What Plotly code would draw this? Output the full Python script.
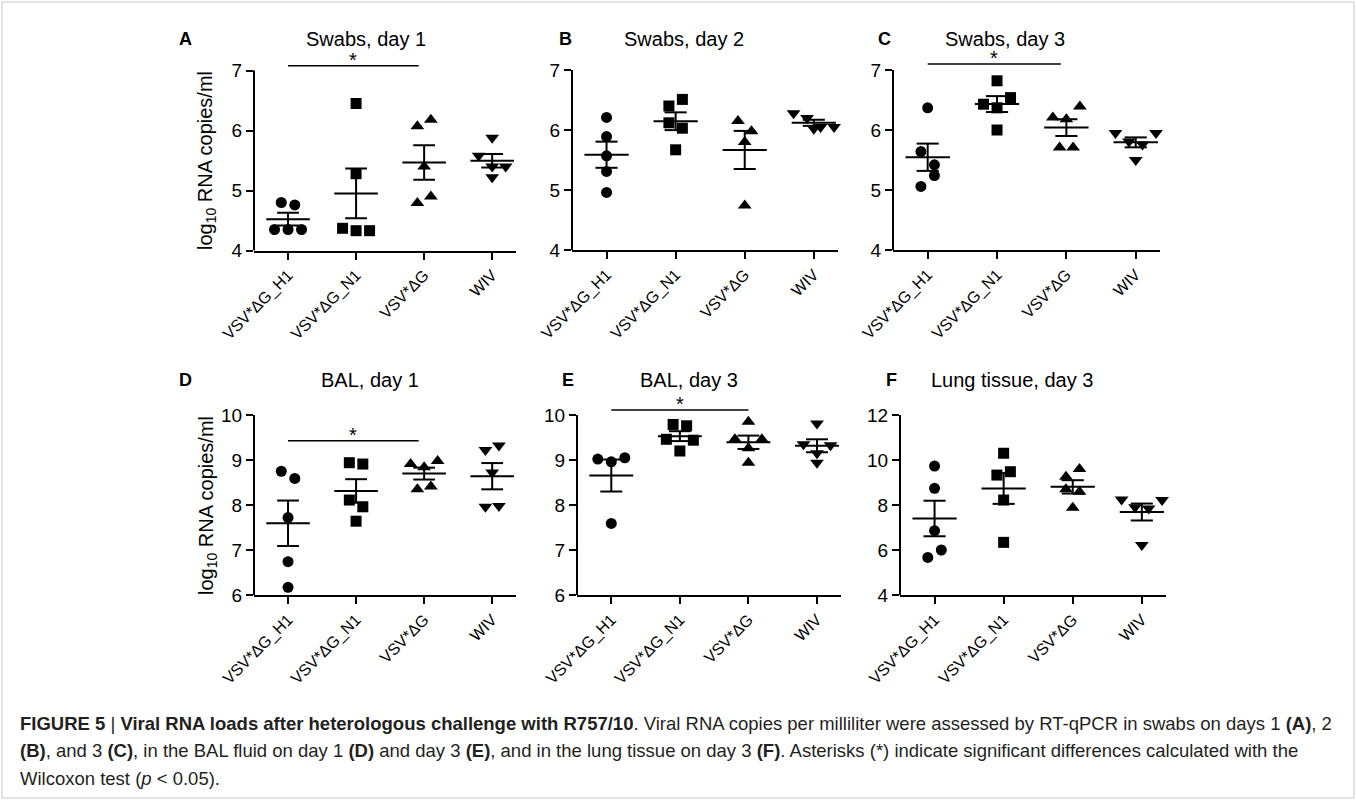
import numpy as np
import plotly.graph_objects as go

W, H = 1356, 800

groups = ["VSV*ΔG_H1", "VSV*ΔG_N1", "VSV*ΔG", "WIV"]
symbols = ["circle", "square", "triangle-up", "triangle-down"]

panel_titles = ["Swabs, day 1", "Swabs, day 2", "Swabs, day 3",
                "BAL, day 1", "BAL, day 3", "Lung tissue, day 3"]
panel_letters = ["A", "B", "C", "D", "E", "F"]

# log10 RNA copies/ml, one list per group (H1, N1, ΔG, WIV)
swabs_day1 = [[4.80, 4.76, 4.35, 4.35, 4.35],
              [6.45, 5.28, 4.37, 4.33, 4.33],
              [6.07, 6.18, 5.40, 4.79, 4.90],
              [5.88, 5.58, 5.40, 5.22, 5.40]]
swabs_day2 = [[6.21, 5.89, 5.57, 5.31, 4.96],
              [6.40, 6.51, 6.12, 6.03, 5.67],
              [6.15, 5.98, 5.80, 4.74],
              [6.28, 6.20, 6.05, 6.02, 6.05]]
swabs_day3 = [[6.37, 5.64, 5.42, 5.06, 5.24],
              [6.82, 6.43, 6.37, 6.54, 6.00],
              [6.21, 6.18, 6.39, 5.71, 5.71],
              [5.95, 5.81, 5.76, 5.95, 5.50]]
bal_day1 = [[8.75, 8.59, 7.72, 6.74, 6.17],
            [8.94, 8.91, 8.11, 7.96, 7.64],
            [8.91, 8.84, 8.98, 8.35, 8.41],
            [9.22, 9.32, 8.72, 7.96, 7.98]]
bal_day3 = [[9.02, 8.96, 9.05, 7.59],
            [9.79, 9.76, 9.46, 9.20, 9.44],
            [9.85, 9.46, 9.26, 9.46, 8.94],
            [9.81, 9.35, 9.15, 9.33, 8.94]]
lung_day3 = [[9.73, 8.74, 6.86, 5.67, 6.00],
             [10.30, 9.33, 9.48, 8.22, 6.34],
             [9.26, 9.60, 8.70, 8.59, 7.88],
             [8.25, 7.90, 7.85, 8.22, 6.22]]

panel_data = [swabs_day1, swabs_day2, swabs_day3, bal_day1, bal_day3, lung_day3]

y_ticks = [[4, 5, 6, 7], [4, 5, 6, 7], [4, 5, 6, 7],
           [6, 7, 8, 9, 10], [6, 7, 8, 9, 10], [4, 6, 8, 10, 12]]

# significance bars: (panel index, from group, to group, bar level)
sig_panels = [0, 2, 3, 4]
sig_from = [0, 0, 0, 0]
sig_to = [1.92, 1.92, 1.92, 2.0]
sig_level = [7.08, 7.10, 9.43, 10.11]

# ---------------- layout (pixels) ----------------
boxes = [(254, 516, 70.5, 250.5), (572, 838, 70, 250), (893, 1160, 70, 250),
         (254, 516, 415, 595), (577, 841, 415, 595), (900, 1166, 415, 595)]
EXT_PX = 20
XR = [-0.5, 3.35]
title_pos = [(366, 39), (684, 39), (1005, 39), (370, 380), (689, 380), (1012, 380)]
letter_pos = [(185, 39), (565, 39), (884, 39), (185, 380), (568, 380), (891, 380)]

FONT = "Arial, Liberation Sans, sans-serif"

fig = go.Figure()


def swarm_offsets(vals, ppu_y, ppx, row_px=14.0, step_px=13.5):
    vals = np.asarray(vals, float)
    order = sorted(range(len(vals)), key=lambda i: -vals[i])
    rows = []
    for i in order:
        if rows and (vals[rows[-1][0]] - vals[i]) * ppu_y < row_px:
            rows[-1].append(i)
        else:
            rows.append([i])
    off = np.zeros(len(vals))
    for r in rows:
        r = sorted(r)
        n = len(r)
        for k, i in enumerate(r):
            off[i] = (k - (n - 1) / 2) * step_px / ppx
    return off


def paper_text(text, px, py, size, angle=0, anchor="center"):
    fig.add_annotation(text=text, xref="paper", yref="paper",
                       x=px / W, y=1 - py / H, xanchor=anchor,
                       yanchor="middle", textangle=angle, showarrow=False,
                       font=dict(family=FONT, size=size, color="black"))


for p in range(6):
    x0, x1, ytop, ybot = boxes[p]
    ticks = y_ticks[p]
    ymin, ymax = ticks[0], ticks[-1]
    ppu = (ybot - ytop) / (ymax - ymin)
    ppx = (x1 - x0) / (XR[1] - XR[0])
    yext = ymax + EXT_PX / ppu
    ax_id = "" if p == 0 else str(p + 1)
    xa, ya = "x" + ax_id, "y" + ax_id

    fig.layout["xaxis" + ax_id] = dict(
        domain=[x0 / W, x1 / W], anchor=ya, range=XR, automargin=False,
        tickvals=list(range(4)), ticktext=groups, tickangle=-45,
        tickfont=dict(family=FONT, size=16, color="black"),
        showline=True, linecolor="black", linewidth=2,
        ticks="outside", ticklen=7, tickwidth=2, tickcolor="black",
        showgrid=False, zeroline=False, fixedrange=True)
    fig.layout["yaxis" + ax_id] = dict(
        domain=[1 - ybot / H, 1 - (ytop - EXT_PX) / H], anchor=xa,
        range=[ymin, yext], tickvals=ticks, automargin=False,
        tickfont=dict(family=FONT, size=19, color="black"),
        showline=False, ticks="outside", ticklen=7, tickwidth=2,
        tickcolor="black", showgrid=False, zeroline=False, fixedrange=True)

    # y axis line only up to the top tick
    fig.add_shape(type="line", xref=xa + " domain", yref=ya,
                  x0=0, x1=0, y0=ymin, y1=ymax,
                  line=dict(color="black", width=2))

    for g in range(4):
        vals = np.asarray(panel_data[p][g], float)
        off = swarm_offsets(vals, ppu, ppx)
        fig.add_trace(go.Scatter(
            x=g + off, y=vals, mode="markers", xaxis=xa, yaxis=ya,
            marker=dict(symbol=symbols[g], size=11 if g < 2 else 12,
                        color="black", line=dict(width=0)),
            showlegend=False, cliponaxis=False, hoverinfo="skip"))
        m = vals.mean()
        s = vals.std(ddof=1) / np.sqrt(len(vals))
        lx, ly = [], []
        for (a, b, yy) in [(-0.32, 0.32, m), (-0.16, 0.16, m + s), (-0.16, 0.16, m - s)]:
            lx += [g + a, g + b, None]
            ly += [yy, yy, None]
        lx += [g, g, None]
        ly += [m - s, m + s, None]
        fig.add_trace(go.Scatter(
            x=lx, y=ly, mode="lines", xaxis=xa, yaxis=ya,
            line=dict(color="black", width=2), showlegend=False,
            hoverinfo="skip"))

    # panel title and letter
    paper_text(panel_titles[p], title_pos[p][0], title_pos[p][1], 20)
    paper_text("<b>" + panel_letters[p] + "</b>", letter_pos[p][0],
               letter_pos[p][1], 18)

# significance bars
for k in range(len(sig_panels)):
    p = sig_panels[k]
    ax_id = "" if p == 0 else str(p + 1)
    xa, ya = "x" + ax_id, "y" + ax_id
    fig.add_shape(type="line", xref=xa, yref=ya, x0=sig_from[k], x1=sig_to[k],
                  y0=sig_level[k], y1=sig_level[k],
                  line=dict(color="black", width=1.5))
    fig.add_annotation(text="*", xref=xa, yref=ya,
                       x=(sig_from[k] + sig_to[k]) / 2, y=sig_level[k],
                       xanchor="center", yanchor="bottom", yshift=-7,
                       showarrow=False,
                       font=dict(family=FONT, size=20, color="black"))

# y-axis titles
for yc in [160, 505]:
    paper_text("log<sub>10</sub> RNA copies/ml", 207, yc, 20, angle=-90)

# caption
CAP_FONT = "Liberation Sans Narrow, Arial Narrow, Liberation Sans, sans-serif"
caption = [
    "<b>FIGURE 5</b> | <b>Viral RNA loads after heterologous challenge with R757/10</b>. "
    "Viral RNA copies per milliliter were assessed by RT-qPCR in swabs on days 1 <b>(A)</b>, 2",
    "<b>(B)</b>, and 3 <b>(C)</b>, in the BAL fluid on day 1 <b>(D)</b> and day 3 <b>(E)</b>, "
    "and in the lung tissue on day 3 <b>(F)</b>. Asterisks (*) indicate significant differences "
    "calculated with the",
    "Wilcoxon test (<i>p</i> &lt; 0.05).",
]
for i, line in enumerate(caption):
    fig.add_annotation(text=line, xref="paper", yref="paper", x=18 / W,
                       y=1 - [723, 750, 778][i] / H, xanchor="left",
                       yanchor="middle", showarrow=False,
                       font=dict(family=CAP_FONT, size=18.5, color="#231f20"))

# frame
fig.add_shape(type="rect", xref="paper", yref="paper", x0=2 / W, x1=1 - 2 / W,
              y0=2 / H, y1=1 - 2 / H, line=dict(color="#c8c8c8", width=1))

fig.update_layout(width=W, height=H, margin=dict(l=0, r=0, t=0, b=0, pad=0),
                  paper_bgcolor="white", plot_bgcolor="white",
                  showlegend=False)

fig.write_html("out.html", config={"displayModeBar": False},
               post_script="document.body.style.margin='0px';"
                           "document.documentElement.style.overflow='hidden';")
